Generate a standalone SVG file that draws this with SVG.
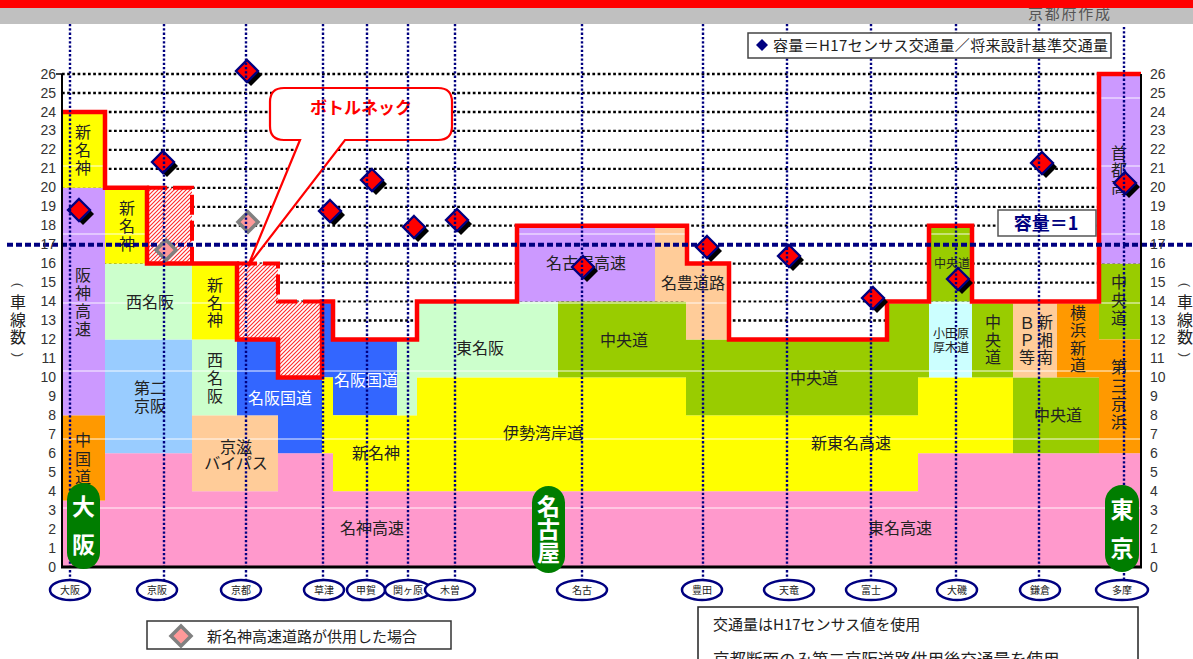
<svg xmlns="http://www.w3.org/2000/svg" xmlns:xlink="http://www.w3.org/1999/xlink" width="1193" height="659" viewBox="0 0 1193 659">
<style>
.lb{font-family:"Noto Sans CJK JP","Noto Sans",sans-serif;font-size:16px;fill:#222;text-anchor:middle}
.sm{font-size:12px}
.wt{fill:#fff}
.ax{font-family:"Liberation Sans",Arial,sans-serif;font-size:14px;fill:#333}
.el{fill:#fff;stroke:#000080;stroke-width:2.5}
.et{font-family:"Noto Sans CJK JP",sans-serif;font-size:10px;fill:#222;text-anchor:middle}
.vl{stroke:#000080;stroke-width:2.4;stroke-dasharray:2.3 2}
.gl{stroke:#000;stroke-width:2.3;stroke-dasharray:2.7 2.5}
.pill{fill:#007d00}
.pt{font-family:"Noto Sans CJK JP",sans-serif;font-size:23px;font-weight:bold;fill:#fff;text-anchor:middle}
.art{stroke:#fff;stroke-width:1;opacity:0.9}
.par{font-family:"Liberation Sans",Arial,sans-serif;font-size:13px;fill:#444;text-anchor:middle;dominant-baseline:central}
</style>
<defs>
<pattern id="hatch" patternUnits="userSpaceOnUse" width="4" height="4">
<rect width="4" height="4" fill="#fff"/>
<path d="M-1,1 l2,-2 M0,4 l4,-4 M3,5 l2,-2" stroke="#ff2a2a" stroke-width="1.1"/>
</pattern>
<g id="cd"><path d="M4,-7 L15,4 L4,15 L-7,4 Z" fill="#000"/><path d="M0,-11 L11,0 L0,11 L-11,0 Z" fill="#ff0000" stroke="#000080" stroke-width="2.3"/></g>
<g id="gd"><path d="M0,-10 L10,0 L0,10 L-10,0 Z" fill="#ff9999" stroke="#808080" stroke-width="3.5"/></g>
</defs>
<rect width="1193" height="659" fill="#fff"/>

<g id="header">
<rect x="0" y="8" width="1193" height="16" fill="#c0c0c0"/>
<text x="1028" y="19" font-family="Noto Sans CJK JP,sans-serif" font-size="15" fill="#555" textLength="82">京都府作成</text>
<rect x="0" y="0" width="1193" height="8" fill="#ff0000"/>
</g>

<g id="grid">
<line class="gl" x1="62" y1="74" x2="1141" y2="74"/>
<line class="gl" x1="62" y1="93" x2="1141" y2="93"/>
<line class="gl" x1="62" y1="112" x2="1141" y2="112"/>
<line class="gl" x1="62" y1="130.9" x2="1141" y2="130.9"/>
<line class="gl" x1="62" y1="149.9" x2="1141" y2="149.9"/>
<line class="gl" x1="62" y1="168.8" x2="1141" y2="168.8"/>
<line class="gl" x1="62" y1="187.8" x2="1141" y2="187.8"/>
<line class="gl" x1="62" y1="206.8" x2="1141" y2="206.8"/>
<line class="gl" x1="62" y1="225.7" x2="1141" y2="225.7"/>
<line class="gl" x1="62" y1="263.6" x2="1141" y2="263.6"/>
<line class="gl" x1="62" y1="282.6" x2="1141" y2="282.6"/>
<line class="gl" x1="62" y1="301.6" x2="1141" y2="301.6"/>
<line class="gl" x1="62" y1="320.5" x2="1141" y2="320.5"/>
</g>

<g id="fills">
<rect x="62" y="500.6" width="43" height="66.4" fill="#ff99cc"/>
<rect x="105" y="453.2" width="87" height="113.8" fill="#ff99cc"/>
<rect x="192" y="491.2" width="86" height="75.8" fill="#ff99cc"/>
<rect x="278" y="453.2" width="55" height="113.8" fill="#ff99cc"/>
<rect x="333" y="491.2" width="585" height="75.8" fill="#ff99cc"/>
<rect x="918" y="453.2" width="223" height="113.8" fill="#ff99cc"/>
<rect x="62" y="415.3" width="43" height="85.3" fill="#ff9900"/>
<rect x="62" y="187.8" width="43" height="227.5" fill="#cc99ff"/>
<rect x="62" y="112" width="43" height="75.8" fill="#ffff00"/>
<rect x="105" y="339.5" width="87" height="113.7" fill="#99ccff"/>
<rect x="105" y="263.6" width="87" height="75.9" fill="#ccffcc"/>
<rect x="105" y="187.8" width="42" height="75.8" fill="#ffff00"/>
<rect x="192" y="415.3" width="86" height="75.9" fill="#ffcc99"/>
<rect x="192" y="339.5" width="45" height="75.8" fill="#ccffcc"/>
<rect x="192" y="263.6" width="45" height="75.9" fill="#ffff00"/>
<rect x="237" y="339.5" width="41" height="75.8" fill="#3366ff"/>
<rect x="278" y="377.4" width="44" height="75.8" fill="#3366ff"/>
<rect x="322" y="301.6" width="11" height="75.8" fill="#3366ff"/>
<rect x="333" y="339.5" width="64" height="75.8" fill="#3366ff"/>
<rect x="322" y="377.4" width="11" height="75.8" fill="#ffff00"/>
<rect x="333" y="415.3" width="84" height="75.9" fill="#ffff00"/>
<rect x="417" y="377.4" width="269" height="113.8" fill="#ffff00"/>
<rect x="686" y="415.3" width="232" height="75.9" fill="#ffff00"/>
<rect x="918" y="377.4" width="95" height="75.8" fill="#ffff00"/>
<rect x="397" y="339.5" width="20" height="75.8" fill="#ccffcc"/>
<rect x="417" y="301.6" width="141" height="75.8" fill="#ccffcc"/>
<rect x="517" y="225.7" width="138" height="75.9" fill="#cc99ff"/>
<rect x="558" y="301.6" width="128" height="75.8" fill="#99cc00"/>
<rect x="686" y="339.5" width="201" height="75.8" fill="#99cc00"/>
<rect x="887" y="301.6" width="31" height="113.7" fill="#99cc00"/>
<rect x="918" y="301.6" width="11" height="75.8" fill="#99cc00"/>
<rect x="929" y="225.7" width="43" height="75.9" fill="#99cc00"/>
<rect x="972" y="301.6" width="41" height="75.8" fill="#99cc00"/>
<rect x="1013" y="377.4" width="86" height="75.8" fill="#99cc00"/>
<rect x="1099" y="263.6" width="42" height="75.9" fill="#99cc00"/>
<rect x="655" y="225.7" width="31" height="75.9" fill="#ffcc99"/>
<rect x="686" y="263.6" width="43" height="75.9" fill="#ffcc99"/>
<rect x="929" y="301.6" width="43" height="75.8" fill="#ccffff"/>
<rect x="1013" y="301.6" width="44" height="75.8" fill="#ffcc99"/>
<rect x="1057" y="301.6" width="42" height="75.8" fill="#ff9900"/>
<rect x="1099" y="339.5" width="42" height="113.7" fill="#ff9900"/>
<rect x="1099" y="74" width="42" height="189.6" fill="#cc99ff"/>
</g>

<g id="artifacts">
<line class="art" x1="60" y1="98" x2="1142" y2="98"/>
<line class="art" x1="60" y1="166" x2="1142" y2="166"/>
<line class="art" x1="60" y1="234" x2="1142" y2="234"/>
<line class="art" x1="60" y1="303" x2="1142" y2="303"/>
<line class="art" x1="60" y1="371" x2="1142" y2="371"/>
<line class="art" x1="60" y1="439" x2="1142" y2="439"/>
<line class="art" x1="60" y1="508" x2="1142" y2="508"/>
</g>

<g id="bottleneck-areas">
<rect x="147" y="187.8" width="45" height="75.8" fill="url(#hatch)"/>
<path d="M237,263.6 H278 V301.6 H322 V377.4 H278 V339.5 H237 Z" fill="url(#hatch)"/>
<path d="M147,187.8 H192 V263.6" fill="none" stroke="#ff0000" stroke-width="4" stroke-dasharray="20 6"/>
<path d="M237,263.6 H278 V301.6 H322" fill="none" stroke="#ff0000" stroke-width="4" stroke-dasharray="20 6"/>
</g>

<g id="labels">
<text class="lb" x="83" y="138"><tspan x="83">新</tspan><tspan x="83" dy="18">名</tspan><tspan x="83" dy="18">神</tspan></text>
<text class="lb" x="83" y="281"><tspan x="83">阪</tspan><tspan x="83" dy="18">神</tspan><tspan x="83" dy="18">高</tspan><tspan x="83" dy="18">速</tspan></text>
<text class="lb" x="83" y="446"><tspan x="83">中</tspan><tspan x="83" dy="18.5">国</tspan><tspan x="83" dy="18.5">道</tspan></text>
<text class="lb" x="127" y="214"><tspan x="127">新</tspan><tspan x="127" dy="18">名</tspan><tspan x="127" dy="18">神</tspan></text>
<text class="lb" x="150" y="308" font-size="15">西名阪</text>
<text class="lb" x="150" y="394">第二</text>
<text class="lb" x="150" y="412">京阪</text>
<text class="lb" x="215" y="291"><tspan x="215">新</tspan><tspan x="215" dy="17.5">名</tspan><tspan x="215" dy="17.5">神</tspan></text>
<text class="lb" x="215" y="366"><tspan x="215">西</tspan><tspan x="215" dy="18">名</tspan><tspan x="215" dy="18">阪</tspan></text>
<text class="lb wt" x="280" y="404">名阪国道</text>
<text class="lb wt" x="366" y="386">名阪国道</text>
<text class="lb" x="236" y="453" font-size="15">京滋</text>
<text class="lb" x="236" y="469" font-size="15">バイパス</text>
<text class="lb" x="376" y="459">新名神</text>
<text class="lb" x="372" y="534">名神高速</text>
<text class="lb" x="480" y="354">東名阪</text>
<text class="lb" x="586" y="269">名古屋高速</text>
<text class="lb" x="693" y="289">名豊道路</text>
<text class="lb" x="624" y="346">中央道</text>
<text class="lb" x="543" y="439" font-size="15">伊勢湾岸道</text>
<text class="lb" x="814" y="384">中央道</text>
<text class="lb" x="851" y="449" font-size="15">新東名高速</text>
<text class="lb" x="900" y="534" font-size="15">東名高速</text>
<text class="lb sm" x="952" y="268">中央道</text>
<text class="lb sm" x="951" y="338">小田原</text>
<text class="lb sm" x="951" y="352">厚木道</text>
<text class="lb" x="993" y="328"><tspan x="993">中</tspan><tspan x="993" dy="17.5">央</tspan><tspan x="993" dy="17.5">道</tspan></text>
<text class="lb" x="1027" y="329"><tspan x="1027">Ｂ</tspan><tspan x="1027" dy="17">Ｐ</tspan><tspan x="1027" dy="17">等</tspan></text>
<text class="lb" x="1045" y="328"><tspan x="1045">新</tspan><tspan x="1045" dy="17.5">湘</tspan><tspan x="1045" dy="17.5">南</tspan></text>
<text class="lb" x="1078" y="319"><tspan x="1078">横</tspan><tspan x="1078" dy="17.4">浜</tspan><tspan x="1078" dy="17.4">新</tspan><tspan x="1078" dy="17.4">道</tspan></text>
<text class="lb" x="1119" y="288"><tspan x="1119">中</tspan><tspan x="1119" dy="18">央</tspan><tspan x="1119" dy="18">道</tspan></text>
<text class="lb" x="1119" y="159"><tspan x="1119">首</tspan><tspan x="1119" dy="17">都</tspan><tspan x="1119" dy="17">高</tspan></text>
<text class="lb" x="1119" y="373"><tspan x="1119">第</tspan><tspan x="1119" dy="18.5">三</tspan><tspan x="1119" dy="18.5">京</tspan><tspan x="1119" dy="18">浜</tspan></text>
<text class="lb" x="1058" y="421">中央道</text>
</g>

<g id="capacity-line">
<path d="M62,112 H105 V187.8 H147 V263.6 H237 V339.5 H278 V377.4 H322 V301.6 H333 V339.5 H417 V301.6 H517 V225.7 H687 V263.6 H729 V339.5 H887 V301.6 H929 V225.7 H972 V301.6 H1099 V74 H1141" fill="none" stroke="#ff0000" stroke-width="4.5"/>
</g>

<g id="ratio-one-line">
<line x1="7" y1="244.7" x2="1193" y2="244.7" stroke="#000080" stroke-width="4" stroke-dasharray="6 3"/>
<rect x="998" y="210" width="98" height="26" fill="#fff" stroke="#555" stroke-width="1.5"/>
<text x="1046" y="230" font-family="Noto Sans CJK JP,sans-serif" font-size="18" font-weight="bold" fill="#000080" text-anchor="middle">容量＝1</text>
</g>

<g id="callout">
<path d="M284,88 H438 Q452,88 452,102 V126 Q452,140 438,140 H345 L248,266 L300,140 H284 Q270,140 270,126 V102 Q270,88 284,88 Z" fill="#fff" stroke="#ff0000" stroke-width="2.2"/>
<text x="361" y="114" font-family="Noto Sans CJK JP,sans-serif" font-size="17" font-weight="bold" fill="#ff0000" text-anchor="middle">ボトルネック</text>
</g>

<g id="capacity-points">
<use href="#gd" x="166" y="250"/>
<use href="#gd" x="248" y="222"/>
<use href="#cd" x="79" y="210"/>
<use href="#cd" x="163" y="162"/>
<use href="#cd" x="247" y="71"/>
<use href="#cd" x="330" y="211"/>
<use href="#cd" x="372" y="180"/>
<use href="#cd" x="414" y="227"/>
<use href="#cd" x="457" y="220"/>
<use href="#cd" x="583" y="267"/>
<use href="#cd" x="707" y="247"/>
<use href="#cd" x="789" y="256"/>
<use href="#cd" x="873" y="298"/>
<use href="#cd" x="958" y="279"/>
<use href="#cd" x="1042" y="163"/>
<use href="#cd" x="1125" y="183"/>
</g>

<g id="section-lines">
<line class="vl" x1="70" y1="24" x2="70" y2="601"/>
<line class="vl" x1="164" y1="24" x2="164" y2="601"/>
<line class="vl" x1="246" y1="24" x2="246" y2="601"/>
<line class="vl" x1="323" y1="24" x2="323" y2="601"/>
<line class="vl" x1="367" y1="24" x2="367" y2="601"/>
<line class="vl" x1="408" y1="24" x2="408" y2="601"/>
<line class="vl" x1="455" y1="24" x2="455" y2="601"/>
<line class="vl" x1="582" y1="24" x2="582" y2="601"/>
<line class="vl" x1="703" y1="24" x2="703" y2="601"/>
<line class="vl" x1="787" y1="24" x2="787" y2="601"/>
<line class="vl" x1="871" y1="24" x2="871" y2="601"/>
<line class="vl" x1="956" y1="24" x2="956" y2="601"/>
<line class="vl" x1="1039" y1="24" x2="1039" y2="601"/>
<line class="vl" x1="1124" y1="27" x2="1124" y2="601"/>
</g>

<g id="axes">
<line x1="62" y1="74" x2="62" y2="567" stroke="#000" stroke-width="2"/>
<line x1="1141" y1="74" x2="1141" y2="567" stroke="#000" stroke-width="2"/>
<line x1="61" y1="567" x2="1142" y2="567" stroke="#000" stroke-width="3"/>
<line x1="56" y1="74" x2="62" y2="74" stroke="#000" stroke-width="1.5"/>
<g class="ax" text-anchor="end">
<text x="56" y="572">0</text><text x="56" y="553">1</text><text x="56" y="534">2</text><text x="56" y="515">3</text><text x="56" y="496">4</text><text x="56" y="477">5</text><text x="56" y="458">6</text><text x="56" y="439">7</text><text x="56" y="420">8</text><text x="56" y="401">9</text><text x="56" y="382">10</text><text x="56" y="363">11</text><text x="56" y="344">12</text><text x="56" y="325">13</text><text x="56" y="306">14</text><text x="56" y="287">15</text><text x="56" y="268">16</text><text x="56" y="249">17</text><text x="56" y="230">18</text><text x="56" y="211">19</text><text x="56" y="192">20</text><text x="56" y="173">21</text><text x="56" y="154">22</text><text x="56" y="135">23</text><text x="56" y="117">24</text><text x="56" y="98">25</text><text x="56" y="79">26</text>
</g>
<g class="ax">
<text x="1150" y="572">0</text><text x="1150" y="553">1</text><text x="1150" y="534">2</text><text x="1150" y="515">3</text><text x="1150" y="496">4</text><text x="1150" y="477">5</text><text x="1150" y="458">6</text><text x="1150" y="439">7</text><text x="1150" y="420">8</text><text x="1150" y="401">9</text><text x="1150" y="382">10</text><text x="1150" y="363">11</text><text x="1150" y="344">12</text><text x="1150" y="325">13</text><text x="1150" y="306">14</text><text x="1150" y="287">15</text><text x="1150" y="268">16</text><text x="1150" y="249">17</text><text x="1150" y="230">18</text><text x="1150" y="211">19</text><text x="1150" y="192">20</text><text x="1150" y="173">21</text><text x="1150" y="154">22</text><text x="1150" y="135">23</text><text x="1150" y="117">24</text><text x="1150" y="98">25</text><text x="1150" y="79">26</text>
</g>
<g id="axis-title-left">
<text class="par" x="18" y="285" transform="rotate(90 18 285)">(</text>
<text class="lb" x="18" y="308" fill="#333">車</text>
<text class="lb" x="18" y="326" fill="#333">線</text>
<text class="lb" x="18" y="343" fill="#333">数</text>
<text class="par" x="18" y="355" transform="rotate(90 18 355)">)</text>
</g>
<g id="axis-title-right">
<text class="par" x="1185" y="285" transform="rotate(90 1185 285)">(</text>
<text class="lb" x="1185" y="308" fill="#333">車</text>
<text class="lb" x="1185" y="326" fill="#333">線</text>
<text class="lb" x="1185" y="343" fill="#333">数</text>
<text class="par" x="1185" y="355" transform="rotate(90 1185 355)">)</text>
</g>
</g>

<g id="cities">
<g id="city-osaka"><rect class="pill" x="67" y="483" width="33" height="86" rx="16.5"/><text class="pt" x="83.5" y="515">大</text><text class="pt" x="83.5" y="553">阪</text></g>
<g id="city-nagoya"><rect class="pill" x="532" y="486" width="33" height="87" rx="16.5"/><text class="pt" x="548.5" y="515" font-size="22">名</text><text class="pt" x="548.5" y="538" font-size="22">古</text><text class="pt" x="548.5" y="561" font-size="22">屋</text></g>
<g id="city-tokyo"><rect class="pill" x="1105" y="485" width="34" height="87" rx="17"/><text class="pt" x="1122" y="518">東</text><text class="pt" x="1122" y="557">京</text></g>
</g>

<g id="sections">
<g id="s-osaka"><ellipse class="el" cx="70" cy="590" rx="20" ry="10"/><text class="et" x="70" y="594">大阪</text></g>
<g id="s-keihan"><ellipse class="el" cx="157" cy="590" rx="20" ry="10"/><text class="et" x="157" y="594">京阪</text></g>
<g id="s-kyoto"><ellipse class="el" cx="241" cy="590" rx="20" ry="10"/><text class="et" x="241" y="594">京都</text></g>
<g id="s-kusatsu"><ellipse class="el" cx="324" cy="590" rx="20" ry="10"/><text class="et" x="324" y="594">草津</text></g>
<g id="s-koka"><ellipse class="el" cx="366" cy="590" rx="19" ry="10"/><text class="et" x="366" y="594">甲賀</text></g>
<g id="s-sekigahara"><ellipse class="el" cx="408" cy="590" rx="23" ry="10"/><text class="et" x="408" y="594">関ヶ原</text></g>
<g id="s-kiso"><ellipse class="el" cx="450" cy="590" rx="25" ry="10"/><text class="et" x="450" y="594">木曽</text></g>
<g id="s-nagoya"><ellipse class="el" cx="582" cy="590" rx="25" ry="10"/><text class="et" x="582" y="594">名古</text></g>
<g id="s-toyota"><ellipse class="el" cx="702" cy="590" rx="20" ry="10"/><text class="et" x="702" y="594">豊田</text></g>
<g id="s-tenryu"><ellipse class="el" cx="789" cy="590" rx="25" ry="10"/><text class="et" x="789" y="594">天竜</text></g>
<g id="s-fuji"><ellipse class="el" cx="871" cy="590" rx="25" ry="10"/><text class="et" x="871" y="594">富士</text></g>
<g id="s-oiso"><ellipse class="el" cx="957" cy="590" rx="20" ry="10"/><text class="et" x="957" y="594">大磯</text></g>
<g id="s-kamakura"><ellipse class="el" cx="1040" cy="590" rx="20" ry="10"/><text class="et" x="1040" y="594">鎌倉</text></g>
<g id="s-tama"><ellipse class="el" cx="1122" cy="590" rx="26" ry="10"/><text class="et" x="1122" y="594">多摩</text></g>
</g>

<g id="legend-top">
<rect x="748" y="33" width="363" height="25" fill="#fff" stroke="#444" stroke-width="1.5"/>
<path d="M762,39 L768,45 L762,51 L756,45 Z" fill="#000080"/>
<text x="773" y="51" font-family="Noto Sans CJK JP,sans-serif" font-size="15" fill="#222" textLength="335">容量＝H17センサス交通量／将来設計基準交通量</text>
</g>

<g id="legend-bottom">
<rect x="147" y="621" width="304" height="28" fill="#fff" stroke="#333" stroke-width="1.5"/>
<use href="#gd" x="181" y="636"/>
<text x="207" y="642" font-family="Noto Sans CJK JP,sans-serif" font-size="15" fill="#222">新名神高速道路が供用した場合</text>
</g>

<g id="notes">
<rect x="698" y="607" width="440" height="70" fill="#fff" stroke="#222" stroke-width="1.5"/>
<text x="713" y="630" font-family="Noto Sans CJK JP,sans-serif" font-size="15" fill="#222">交通量はH17センサス値を使用</text>
<text x="713" y="666" font-family="Noto Sans CJK JP,sans-serif" font-size="16.5" fill="#222">京都断面のみ第二京阪道路供用後交通量を使用</text>
</g>
</svg>
